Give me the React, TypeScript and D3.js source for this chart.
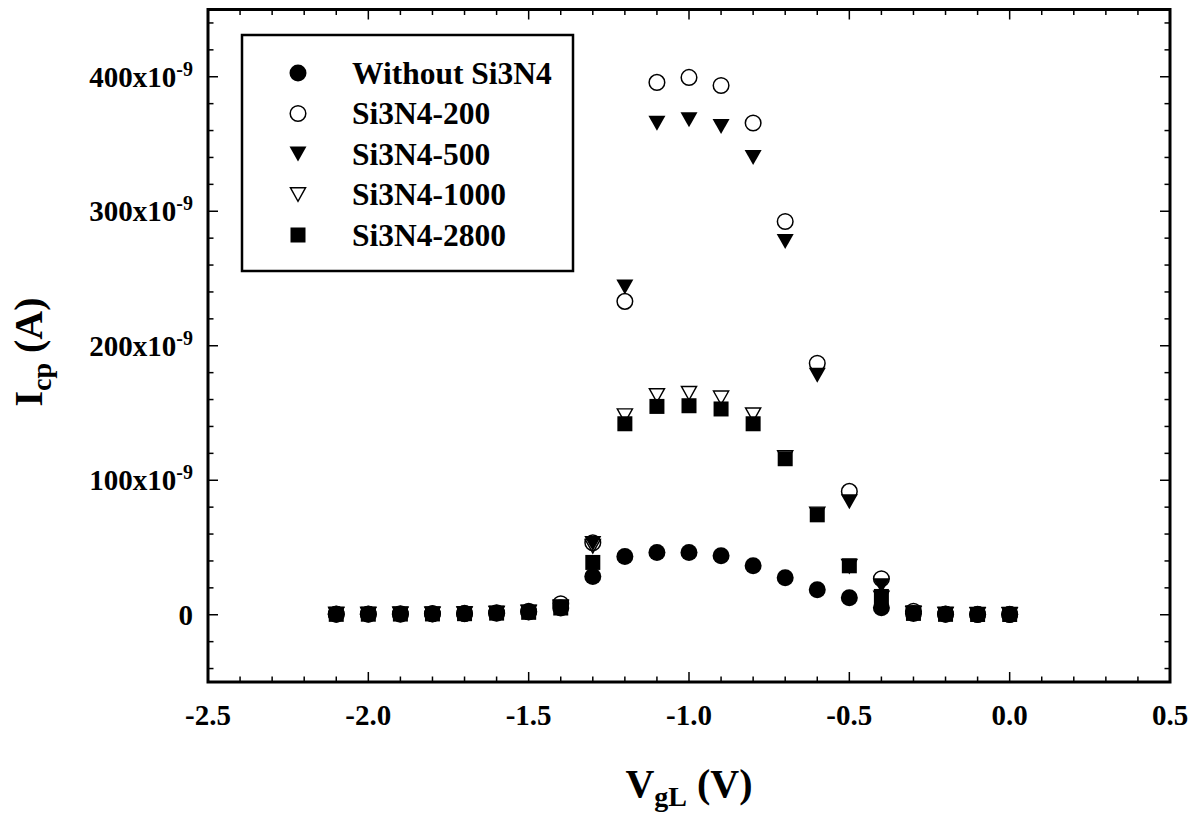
import React from "react";
import * as d3 from "d3";

const vgl = [-2.1, -2.0, -1.9, -1.8, -1.7, -1.6, -1.5, -1.4, -1.3, -1.2, -1.1, -1.0, -0.9, -0.8, -0.7, -0.6, -0.5, -0.4, -0.3, -0.2, -0.1, 0.0];

// values in units of 1e-9 A
const withoutSi3N4 = [0.3, 0.4, 0.4, 0.5, 0.7, 1.2, 2.0, 5.0, 28.5, 43.3, 46.3, 46.3, 43.9, 36.4, 27.5, 18.6, 12.6, 5.2, 1.0, 0.3, 0.2, 0.2];
const si200 = [0.5, 0.6, 0.7, 0.8, 1.0, 1.5, 2.5, 8.2, 53.5, 233, 395.8, 399.5, 393.5, 365.6, 292.4, 187, 91.7, 26.8, 2.5, 0.5, 0.3, 0.3];
const si500 = [0.3, 0.4, 0.5, 0.6, 0.8, 1.2, 2.0, 6.0, 53, 243.6, 365.4, 368, 363, 340, 277.5, 178, 84, 21.5, 1.5, 0.4, 0.3, 0.3];
const si1000 = [0.3, 0.4, 0.5, 0.6, 0.8, 1.2, 1.8, 5.5, 51, 148, 163, 164.7, 161.3, 148.7, 117, 75, 36, 12.5, 1.0, 0.3, 0.2, 0.2];
const si2800 = [0.3, 0.4, 0.5, 0.6, 0.8, 1.2, 1.8, 5.0, 38.9, 142, 154.9, 155.4, 153, 142, 116, 74.3, 36.4, 13.6, 1.0, 0.3, 0.2, 0.2];

const seriesNames = ["Without Si3N4", "Si3N4-200", "Si3N4-500", "Si3N4-1000", "Si3N4-2800"];
const seriesValues = [withoutSi3N4, si200, si500, si1000, si2800];
const seriesSymbols = ["circleFilled", "circleOpen", "triDownFilled", "triDownOpen", "squareFilled"];

const xMajorTicks = [-2.5, -2.0, -1.5, -1.0, -0.5, 0.0, 0.5];
const yMajorTicks = [0, 100, 200, 300, 400];

const W = 1196;
const H = 814;
const FONT = "'Liberation Serif', 'Times New Roman', serif";

const x = d3.scaleLinear().domain([-2.5, 0.5]).range([208, 1170]);
const y = d3.scaleLinear().domain([-50, 450]).range([682, 9.5]);

function Symbol({ kind, cx, cy }: { kind: string; cx: number; cy: number }) {
  const r = 8.5;
  if (kind === "circleFilled") return <circle cx={cx} cy={cy} r={r} fill="#000" />;
  if (kind === "circleOpen") return <circle cx={cx} cy={cy} r={r - 0.7} fill="none" stroke="#000" strokeWidth={1.5} />;
  if (kind === "squareFilled") return <rect x={cx - 7.5} y={cy - 7.5} width={15} height={15} fill="#000" />;
  const hw = 8.5, hh = 7.5;
  const pts = `${cx - hw},${cy - hh} ${cx + hw},${cy - hh} ${cx},${cy + hh}`;
  if (kind === "triDownFilled") return <polygon points={pts} fill="#000" />;
  const hw2 = 7.6, hh2 = 6.8;
  const pts2 = `${cx - hw2},${cy - hh2} ${cx + hw2},${cy - hh2} ${cx},${cy + hh2}`;
  return <polygon points={pts2} fill="none" stroke="#000" strokeWidth={1.4} strokeLinejoin="miter" />;
}

export default function App() {
  const [x0, x1] = x.range();
  const [yb, yt] = y.range();
  const xMinor = d3.range(-25, 6).map((v) => v / 10).filter((v) => !xMajorTicks.some((m) => Math.abs(m - v) < 1e-9));
  const yMinor = d3.range(-40, 450, 20).filter((v) => !yMajorTicks.includes(v));

  const legendRows = seriesNames.map((n, i) => ({ n, s: seriesSymbols[i], cy: 73 + i * 40.5 }));

  return (
    <svg width={W} height={H} style={{ position: "absolute", left: 0, top: 0, background: "#fff" }} fontFamily={FONT}>
      <rect x={0} y={0} width={W} height={H} fill="#fff" />
      {/* ticks */}
      <g stroke="#000" strokeWidth={1.5}>
        {xMajorTicks.map((v) => (
          <g key={"xm" + v}>
            <line x1={x(v)} x2={x(v)} y1={yb} y2={yb - 10} />
            <line x1={x(v)} x2={x(v)} y1={yt} y2={yt + 10} />
          </g>
        ))}
        {xMinor.map((v) => (
          <g key={"xn" + v}>
            <line x1={x(v)} x2={x(v)} y1={yb} y2={yb - 5.5} />
            <line x1={x(v)} x2={x(v)} y1={yt} y2={yt + 5.5} />
          </g>
        ))}
        {yMajorTicks.map((v) => (
          <g key={"ym" + v}>
            <line x1={x0} x2={x0 + 10} y1={y(v)} y2={y(v)} />
            <line x1={x1} x2={x1 - 10} y1={y(v)} y2={y(v)} />
          </g>
        ))}
        {yMinor.map((v) => (
          <g key={"yn" + v}>
            <line x1={x0} x2={x0 + 5.5} y1={y(v)} y2={y(v)} />
            <line x1={x1} x2={x1 - 5.5} y1={y(v)} y2={y(v)} />
          </g>
        ))}
      </g>
      {/* frame */}
      <rect x={x0} y={yt} width={x1 - x0} height={yb - yt} fill="none" stroke="#000" strokeWidth={3} />

      {/* x tick labels */}
      {xMajorTicks.map((v) => (
        <text key={"xl" + v} x={x(v)} y={725} textAnchor="middle" fontSize={29} fontWeight="bold">
          {d3.format(".1f")(v).replace("−", "-")}
        </text>
      ))}
      {/* y tick labels */}
      {yMajorTicks.map((v) =>
        v === 0 ? (
          <text key={"yl" + v} x={193} y={y(v) + 10} textAnchor="end" fontSize={29} fontWeight="bold">0</text>
        ) : (
          <text key={"yl" + v} x={193} y={y(v) + 10} textAnchor="end" fontSize={29} fontWeight="bold">
            {`${v}x10`}
            <tspan fontSize={20} dy={-11}>-9</tspan>
          </text>
        )
      )}

      {/* axis titles */}
      <text x={689} y={797} textAnchor="middle" fontSize={40} fontWeight="bold">
        V<tspan fontSize={28} dy={9}>gL</tspan>
        <tspan dy={-9}> (V)</tspan>
      </text>
      <text transform={`translate(42, 352) rotate(-90)`} textAnchor="middle" fontSize={40} fontWeight="bold">
        I<tspan fontSize={28} dy={9}>cp</tspan>
        <tspan dy={-9}> (A)</tspan>
      </text>

      {/* data */}
      {seriesValues.map((vals, si) => (
        <g key={"s" + si}>
          {vals.map((v, i) => (
            <Symbol key={i} kind={seriesSymbols[si]} cx={x(vgl[i])} cy={y(v)} />
          ))}
        </g>
      ))}

      {/* legend */}
      <rect x={242} y={35} width={331} height={236} fill="#fff" stroke="#000" strokeWidth={2.5} />
      {legendRows.map((r) => (
        <g key={r.n}>
          <Symbol kind={r.s} cx={298} cy={r.cy} />
          <text x={352} y={r.cy + 10.5} fontSize={31.5} fontWeight="bold">{r.n}</text>
        </g>
      ))}
    </svg>
  );
}
